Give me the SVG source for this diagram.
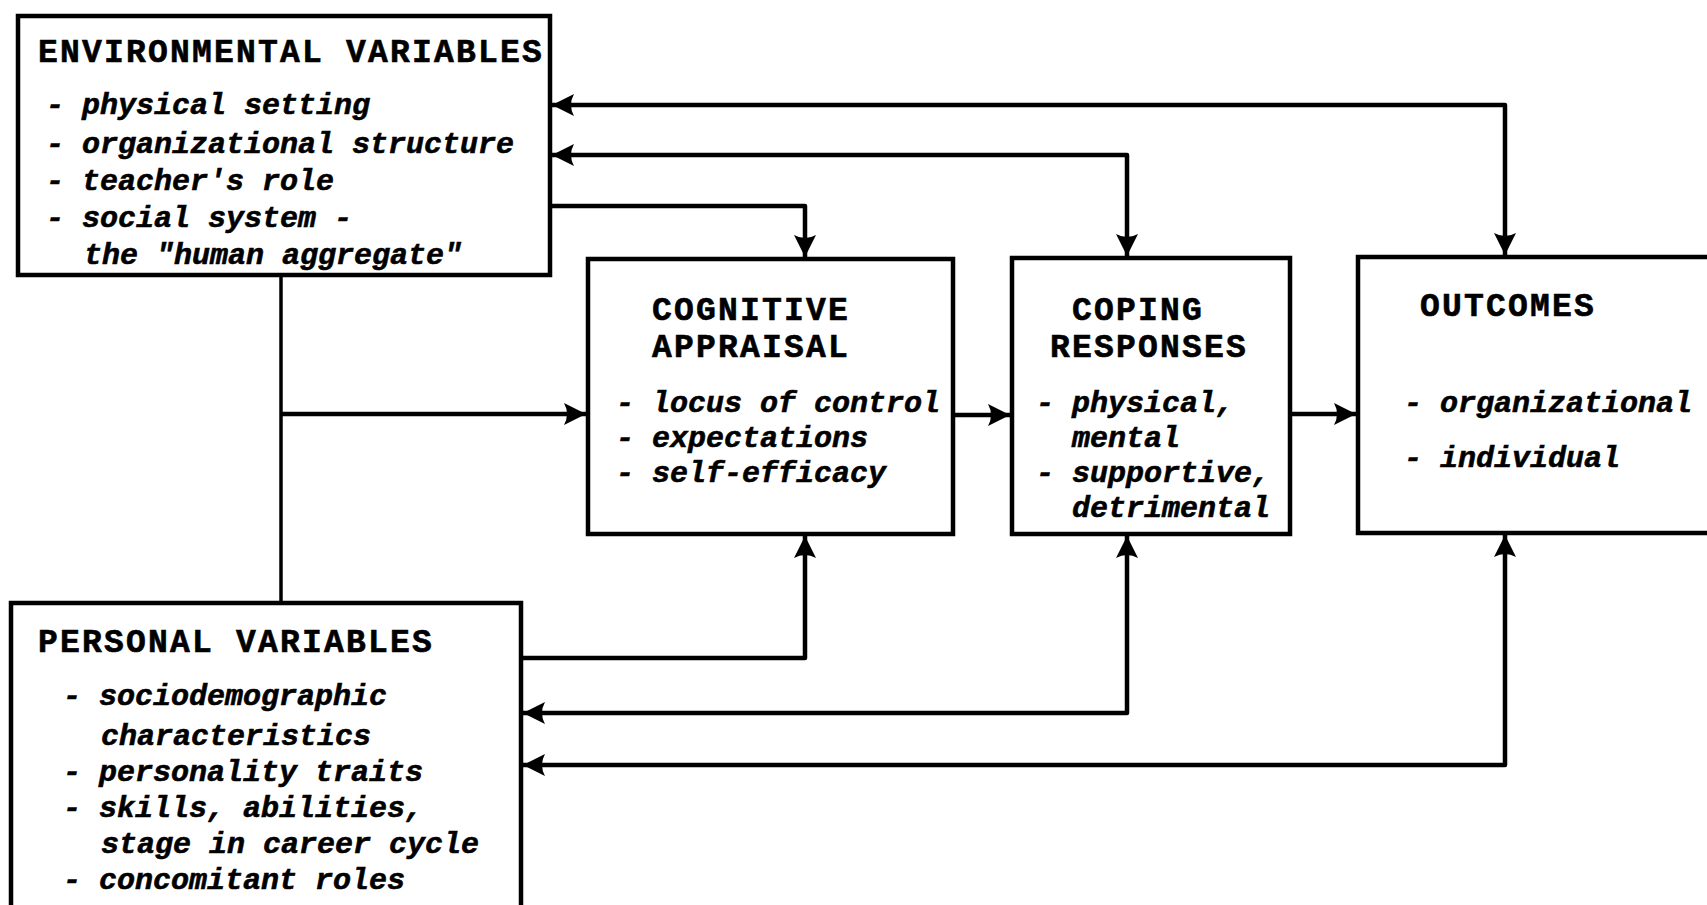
<svg xmlns="http://www.w3.org/2000/svg" width="1707" height="905" viewBox="0 0 1707 905">
<style>
.box{fill:#fff;stroke:#000;stroke-width:4.5}
.hd{font-family:"Liberation Mono","DejaVu Sans Mono",monospace;font-weight:bold;font-size:33px;letter-spacing:2.2px;fill:#000;stroke:#000;stroke-width:0.6}
.it{font-family:"Liberation Mono","DejaVu Sans Mono",monospace;font-weight:bold;font-style:italic;font-size:30px;fill:#000;stroke:#000;stroke-width:0.6}
.ln{fill:none;stroke:#000;stroke-width:4.5;stroke-linejoin:round}
</style>
<defs>
<marker id="ah" markerUnits="userSpaceOnUse" markerWidth="24" markerHeight="24" refX="22" refY="12" orient="auto-start-reverse" viewBox="0 0 24 24">
<path d="M0,1 Q6,12 0,23 L22,12 z" fill="#000"/>
</marker>
</defs>
<rect width="1707" height="905" fill="#fff"/>
<g id="connectors">
<path class="ln" d="M281,275 V603" style="stroke-width:3.5"/>
<path class="ln" d="M281,414 H586" marker-end="url(#ah)"/>
<path class="ln" d="M953,415 H1010" marker-end="url(#ah)"/>
<path class="ln" d="M1290,414 H1356" marker-end="url(#ah)"/>
<path class="ln" d="M552,105 H1505 V255" marker-start="url(#ah)" marker-end="url(#ah)"/>
<path class="ln" d="M552,155 H1127 V256" marker-start="url(#ah)" marker-end="url(#ah)"/>
<path class="ln" d="M550,206 H805 V257" marker-end="url(#ah)"/>
<path class="ln" d="M521,658 H805 V536" marker-end="url(#ah)"/>
<path class="ln" d="M523,713 H1127 V536" marker-start="url(#ah)" marker-end="url(#ah)"/>
<path class="ln" d="M523,765 H1505 V535" marker-start="url(#ah)" marker-end="url(#ah)"/>
</g>
<g id="environmental">
<rect class="box" x="18" y="16" width="532" height="259"/>
<text class="hd" x="38" y="62">ENVIRONMENTAL VARIABLES</text>
<text class="it" x="46" y="114">- physical setting</text>
<text class="it" x="46" y="153">- organizational structure</text>
<text class="it" x="46" y="190">- teacher's role</text>
<text class="it" x="46" y="227">- social system -</text>
<text class="it" x="84" y="264">the "human aggregate"</text>
</g>
<g id="cognitive">
<rect class="box" x="588" y="259" width="365" height="275"/>
<text class="hd" x="652" y="320">COGNITIVE</text>
<text class="hd" x="652" y="357">APPRAISAL</text>
<text class="it" x="616" y="412">- locus of control</text>
<text class="it" x="616" y="447">- expectations</text>
<text class="it" x="616" y="482">- self-efficacy</text>
</g>
<g id="coping">
<rect class="box" x="1012" y="258" width="278" height="276"/>
<text class="hd" x="1072" y="320">COPING</text>
<text class="hd" x="1050" y="357">RESPONSES</text>
<text class="it" x="1036" y="412">- physical,</text>
<text class="it" x="1072" y="447">mental</text>
<text class="it" x="1036" y="482">- supportive,</text>
<text class="it" x="1072" y="517">detrimental</text>
</g>
<g id="outcomes">
<rect class="box" x="1358" y="257" width="370" height="276"/>
<text class="hd" x="1420" y="316">OUTCOMES</text>
<text class="it" x="1404" y="412">- organizational</text>
<text class="it" x="1404" y="467">- individual</text>
</g>
<g id="personal">
<rect class="box" x="11" y="603" width="510" height="320"/>
<text class="hd" x="38" y="652">PERSONAL VARIABLES</text>
<text class="it" x="63" y="705">- sociodemographic</text>
<text class="it" x="101" y="745">characteristics</text>
<text class="it" x="63" y="781">- personality traits</text>
<text class="it" x="63" y="817">- skills, abilities,</text>
<text class="it" x="101" y="853">stage in career cycle</text>
<text class="it" x="63" y="889">- concomitant roles</text>
</g>
</svg>
